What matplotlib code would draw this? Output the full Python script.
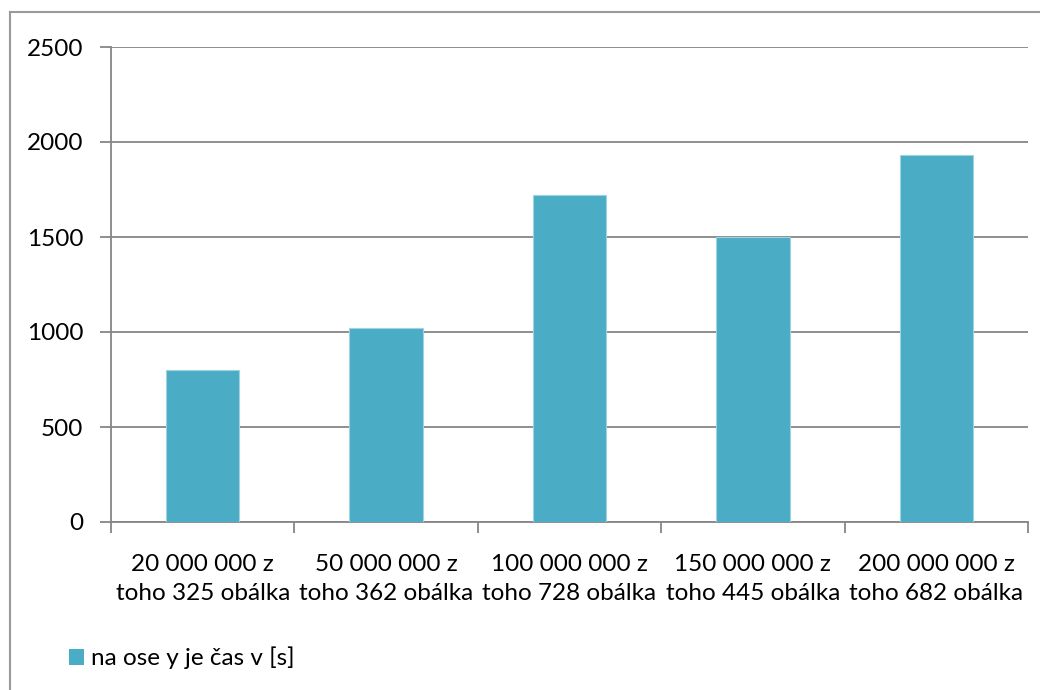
import matplotlib
matplotlib.use("Agg")
import matplotlib.pyplot as plt
from matplotlib.lines import Line2D
from matplotlib.patches import Patch

plt.rcParams['font.family'] = ['Lato', 'DejaVu Sans']

categories = [
    "20 000 000 z\ntoho 325 obálka",
    "50 000 000 z\ntoho 362 obálka",
    "100 000 000 z\ntoho 728 obálka",
    "150 000 000 z\ntoho 445 obálka",
    "200 000 000 z\ntoho 682 obálka",
]
times = [800, 1020, 1720, 1500, 1930]
y_ticks = [0, 500, 1000, 1500, 2000, 2500]
series_label = "na ose y je čas v [s]"

bar_color = "#4BACC6"
grid_color = "#868686"
W, H = 1040, 690
FS = 17.5

fig = plt.figure(figsize=(W / 100, H / 100), dpi=100)
ax = fig.add_axes([111 / W, 1 - 522 / H, (1028 - 111) / W, (522 - 47) / H])

x = list(range(len(categories)))
ax.bar(x, times, width=0.4, color=bar_color, edgecolor="#9fd3e0", linewidth=0.8, zorder=3)

ax.set_xlim(-0.5, len(categories) - 0.5)
ax.set_ylim(0, 2500)
ax.set_yticks(y_ticks)
ax.set_yticklabels([str(v) for v in y_ticks], fontsize=FS, color="black")
ax.yaxis.grid(True, color=grid_color, linewidth=1.3, zorder=1)

# category labels sit between boundary ticks
ax.set_xticks([i - 0.5 for i in range(len(categories) + 1)])
ax.set_xticklabels([])
ax.set_xticks(x, minor=True)
ax.set_xticklabels(categories, minor=True, fontsize=FS, color="black", linespacing=1.45)
ax.tick_params(axis="x", which="minor", length=0, pad=23)
ax.tick_params(axis="x", which="major", length=8, width=1.3, color=grid_color, direction="out")
ax.tick_params(axis="y", length=8, width=1.3, color=grid_color, direction="out", pad=12)

for side in ("top", "right"):
    ax.spines[side].set_visible(False)
for side in ("left", "bottom"):
    ax.spines[side].set_color(grid_color)
    ax.spines[side].set_linewidth(1.3)

# chart-area frame (top and left edges)
fig.add_artist(Line2D([10 / W, 1.0], [1 - 12 / H, 1 - 12 / H], color="#9a9a9a", linewidth=1.5))
fig.add_artist(Line2D([10 / W, 10 / W], [0, 1 - 12 / H], color="#9a9a9a", linewidth=1.5))

handle = Patch(facecolor=bar_color, edgecolor="none")
fig.legend([handle], [series_label], loc="center left",
           bbox_to_anchor=(69 / W, 1 - 658 / H), frameon=False,
           fontsize=FS, handlelength=0.62, handleheight=0.62, handletextpad=0.3,
           borderpad=0, borderaxespad=0)

fig.savefig("out.png", dpi=100, facecolor="white")
